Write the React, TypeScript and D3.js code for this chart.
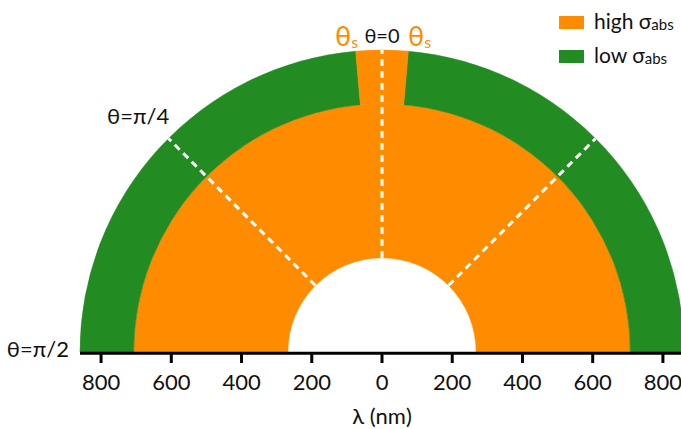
import * as d3 from 'd3'

const ORANGE = '#ff8c00'
const GREEN = '#228b22'

// polar layout in nm
const xTicks = [-800, -600, -400, -200, 0, 200, 400, 600, 800]
const innerRadius = 268
const highRadius = 707
const lowRadius = 860
const thetaS = (5 * Math.PI) / 180
const dashAngles = [-Math.PI / 4, 0, Math.PI / 4]
const legendItems = [
  { label: 'high', color: ORANGE },
  { label: 'low', color: GREEN },
]

const W = 681
const H = 429
const cy = 352

export default function App() {
  const x = d3.scaleLinear().domain([-lowRadius, lowRadius]).range([80, 684])
  const r = (v: number) => x(v) - x(0)
  const cx = x(0)

  const arc = d3.arc<any>()
  const regions = [
    { inner: innerRadius, outer: highRadius, start: -Math.PI / 2, end: Math.PI / 2, color: ORANGE },
    { inner: highRadius, outer: lowRadius, start: -Math.PI / 2, end: -thetaS, color: GREEN },
    { inner: highRadius, outer: lowRadius, start: thetaS, end: Math.PI / 2, color: GREEN },
    { inner: highRadius, outer: lowRadius, start: -thetaS, end: thetaS, color: ORANGE },
  ]

  const font = 'Lato, "Open Sans", sans-serif'

  return (
    <svg width={W} height={H} style={{ position: 'absolute', left: 0, top: 0 }} fontFamily={font}>
      <g transform={`translate(${cx},${cy})`}>
        {regions.map((d, i) => (
          <path
            key={i}
            d={arc({ innerRadius: r(d.inner), outerRadius: r(d.outer), startAngle: d.start, endAngle: d.end }) || ''}
            fill={d.color}
            stroke={d.color}
            strokeWidth={0.5}
          />
        ))}
        {dashAngles.map((a, i) => (
          <line
            key={i}
            x1={r(innerRadius) * Math.sin(a)}
            y1={-r(innerRadius) * Math.cos(a)}
            x2={r(lowRadius) * Math.sin(a)}
            y2={-r(lowRadius) * Math.cos(a)}
            stroke="white"
            strokeWidth={3}
            strokeDasharray="7,5"
          />
        ))}
      </g>

      {/* axis */}
      <line x1={80} x2={684} y1={353.3} y2={353.3} stroke="black" strokeWidth={3} />
      {xTicks.map((t) => (
        <g key={t} transform={`translate(${x(t)},0)`}>
          <line y1={353} y2={363} stroke="black" strokeWidth={3} />
          <text y={390} textAnchor="middle" fontSize={22} fill="#111">
            {Math.abs(t)}
          </text>
        </g>
      ))}
      <text x={cx} y={424} textAnchor="middle" fontSize={22} fill="#111">
        λ (nm)
      </text>

      {/* angle labels */}
      <text x={69} y={357} textAnchor="end" fontSize={22} fill="#111">θ=π/2</text>
      <text x={107} y={124} fontSize={22} fill="#111">θ=π/4</text>
      <text x={cx} y={43} textAnchor="middle" fontSize={20} fill="#111">θ=0</text>
      <text x={335} y={46} fontSize={27} fill={ORANGE}>
        θ<tspan fontSize={16} dy={2}>s</tspan>
      </text>
      <text x={408} y={46} fontSize={27} fill={ORANGE}>
        θ<tspan fontSize={16} dy={2}>s</tspan>
      </text>

      {/* legend */}
      {legendItems.map((d, i) => (
        <g key={d.label} transform={`translate(559,${16 + i * 34})`}>
          <rect width={25} height={13} fill={d.color} />
          <text x={35} y={13} fontSize={21} fill="#111">
            {d.label} σ<tspan fontSize={15} dy={1}>abs</tspan>
          </text>
        </g>
      ))}
    </svg>
  )
}
